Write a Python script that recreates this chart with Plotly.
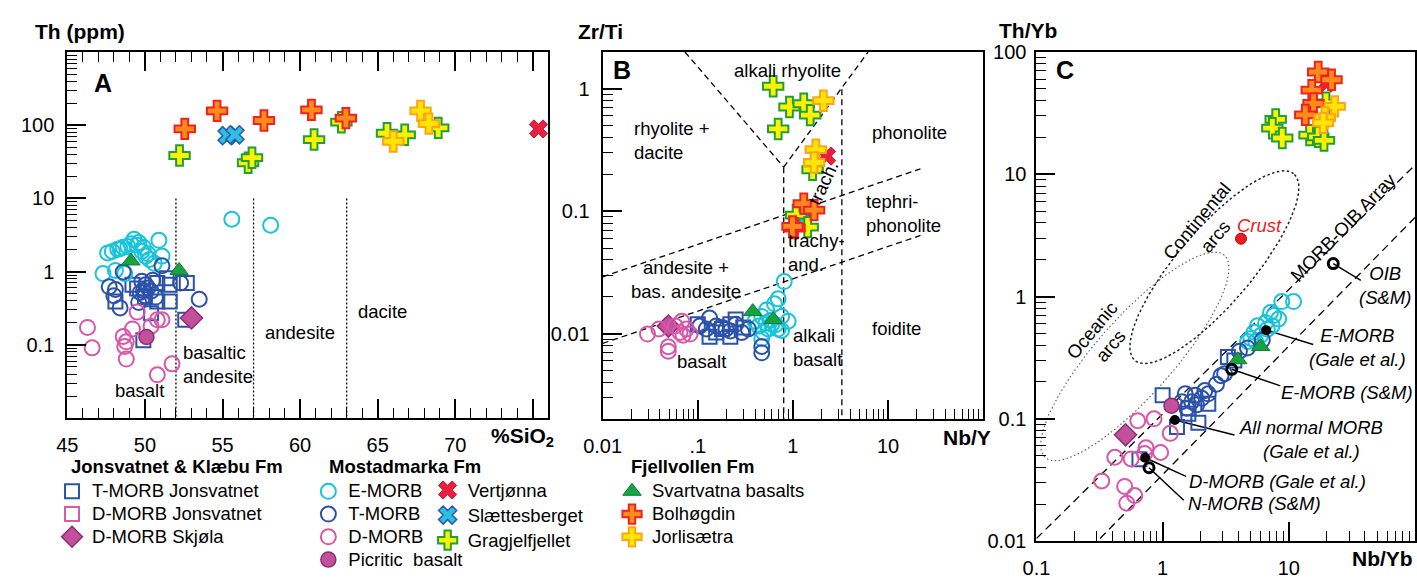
import numpy as np
import plotly.graph_objects as go

FIG_W, FIG_H = 1417, 579

# ============================ DATA ============================
# ---- Panel A : SiO2 (wt%) vs Th (ppm)
EMORB_A_SIO2 = [47.6, 47.9, 48.25, 48.6, 49.3, 49.5, 49.9, 50.05, 50.3, 50.9, 51.1, 47.3, 48.1, 48.7,
                48.9, 49.6, 49.1, 50.2, 49.8, 48.4, 50.6, 55.6, 58.1]
EMORB_A_TH = [1.8, 1.89, 2.03, 2.16, 2.76, 2.3, 2.16, 1.63, 1.47, 2.68, 1.63, 0.94, 1.04, 0.94,
              2.2, 2.5, 2.4, 1.75, 1.9, 2.05, 1.3, 5.2, 4.3]
TMORB_A_SIO2 = [47.7, 48.1, 48.0, 48.4, 50.05, 49.7, 49.6, 50.4, 50.7, 51.1, 52.3, 53.5, 49.8, 50.5,
                48.6, 50.0, 50.2, 49.9]
TMORB_A_TH = [0.62, 0.57, 0.47, 0.32, 0.66, 0.52, 0.38, 0.54, 0.45, 1.2, 0.70, 0.42, 0.74, 0.76,
              0.99, 0.47, 0.6, 0.55]
TMORBJ_A_SIO2 = [49.2, 50.8, 51.6, 52.7, 51.6, 50.8, 50.4, 48.1, 52.6, 49.9, 51.4, 49.5, 50.0]
TMORBJ_A_TH = [0.66, 0.70, 0.66, 0.70, 0.39, 0.39, 0.27, 0.39, 0.22, 0.116, 0.81, 0.59, 0.45]
DMORBJ_A_SIO2 = [None]
DMORBJ_A_TH = [None]
DMORB_A_SIO2 = [46.3, 46.6, 48.6, 49.2, 48.8, 48.7, 48.8, 49.5, 50.4, 50.8, 51.1, 50.8, 51.75]
DMORB_A_TH = [0.173, 0.091, 0.13, 0.165, 0.11, 0.095, 0.064, 0.28, 0.18, 0.22, 0.22, 0.039, 0.055]
PICRITE_A_SIO2 = [50.1]
PICRITE_A_TH = [0.128]
SKJOLA_A_SIO2 = [53.0]
SKJOLA_A_TH = [0.233]
SVART_A_SIO2 = [49.1, 52.2]
SVART_A_TH = [1.4, 1.04]
BOLH_A_SIO2 = [52.57, 54.65, 57.67, 60.73, 62.95]
BOLH_A_TH = [89, 157, 116, 162, 125]
GRAG_A_SIO2 = [52.23, 56.65, 56.9, 60.9, 62.66, 65.6, 66.74, 68.9]
GRAG_A_TH = [38.6, 30.7, 36, 63.7, 110, 77.6, 74, 92]
JORL_A_SIO2 = [67.76, 68.3, 66.0]
JORL_A_TH = [157, 105, 60]
SLAET_A_SIO2 = [55.3, 55.8]
SLAET_A_TH = [72, 74]
VERT_A_SIO2 = [75.36]
VERT_A_TH = [89]

# ---- Panel B : Nb/Y vs Zr/Ti
EMORB_B_NBY = [0.81, 0.70, 0.53, 0.47, 0.436, 0.49, 0.76, 0.89, 0.70, 0.55, 0.40, 0.60, 0.47, 0.76,
               0.64, 0.58, 0.66, 0.52]
EMORB_B_ZRTI = [0.0266, 0.0192, 0.0156, 0.0138, 0.0115, 0.0102, 0.0138, 0.0126, 0.0109, 0.0109,
                0.0126, 0.0119, 0.0091, 0.0106, 0.0175, 0.0128, 0.0118, 0.0122]
TMORB_B_NBY = [0.133, 0.156, 0.25, 0.29, 0.47, 0.47, 0.34, 0.105, 0.198, 0.123, 0.22, 0.18]
TMORB_B_ZRTI = [0.0134, 0.0115, 0.0119, 0.0102, 0.00695, 0.00783, 0.0109, 0.0115, 0.0109, 0.0109,
                0.0105, 0.0112]
TMORBJ_B_NBY = [0.1, 0.133, 0.18, 0.22, 0.25, 0.22, 0.156, 0.3]
TMORBJ_B_ZRTI = [0.0119, 0.0094, 0.0109, 0.0119, 0.013, 0.0094, 0.0102, 0.0112]
DMORB_B_NBY = [0.0296, 0.039, 0.049, 0.049, 0.068, 0.076, 0.083, 0.065, 0.058, 0.07]
DMORB_B_ZRTI = [0.0099, 0.0109, 0.0078, 0.00716, 0.0126, 0.0109, 0.0099, 0.0102, 0.0115, 0.0097]
SKJOLA_B_NBY = [0.049]
SKJOLA_B_ZRTI = [0.0115]
SVART_B_NBY = [0.378, 0.62]
SVART_B_ZRTI = [0.0151, 0.013]
BOLH_B_NBY = [1.30, 1.67, 1.04, 0.99]
BOLH_B_ZRTI = [0.115, 0.102, 0.0727, 0.075]
GRAG_B_NBY = [0.62, 0.92, 1.30, 1.52, 0.70, 1.61, 1.08, 1.43]
GRAG_B_ZRTI = [1.05, 0.71, 0.755, 0.61, 0.47, 0.218, 0.093, 0.074]
JORL_B_NBY = [2.09, 1.74, 1.67]
JORL_B_ZRTI = [0.80, 0.318, 0.25]
SLAET_B_NBY = [1.3, 1.18]
SLAET_B_ZRTI = [0.083, 0.085]
VERT_B_NBY = [2.26]
VERT_B_ZRTI = [0.282]

# ---- Panel C : Nb/Yb vs Th/Yb
EMORB_C_NBYB = [10.9, 8.8, 8.3, 7.16, 6.55, 5.64, 5.31, 5.0, 4.71, 5.98, 6.75, 7.38, 5.47, 7.6]
EMORB_C_THYB = [0.91, 0.91, 0.655, 0.74, 0.61, 0.577, 0.51, 0.454, 0.428, 0.48, 0.54, 0.577, 0.428, 0.70]
TMORB_C_NBYB = [6.17, 4.7, 4.06, 3.1, 2.67, 1.51, 1.81, 2.16, 1.42, 1.70, 2.04, 1.56, 1.86, 2.9, 2.3]
TMORB_C_THYB = [0.44, 0.38, 0.357, 0.234, 0.192, 0.16, 0.156, 0.17, 0.138, 0.138, 0.147, 0.122, 0.13,
                0.225, 0.16]
TMORBJ_C_NBYB = [1.0, 1.6, 2.3, 1.92, 1.6, 1.3, 0.655, 3.29, 3.7]
TMORBJ_C_THYB = [0.156, 0.122, 0.133, 0.093, 0.11, 0.0855, 0.0467, 0.32, 0.30]
DMORB_C_NBYB = [0.635, 0.855, 1.15, 0.738, 0.964, 0.563, 0.418, 0.329, 0.5, 0.6, 0.52, 0.72]
DMORB_C_THYB = [0.0964, 0.1, 0.076, 0.058, 0.053, 0.047, 0.0485, 0.031, 0.028, 0.0236, 0.0204, 0.052]
PICRITE_C_NBYB = [1.175]
PICRITE_C_THYB = [0.128]
SKJOLA_C_NBYB = [0.508]
SKJOLA_C_THYB = [0.074]
SVART_C_NBYB = [3.94, 5.98]
SVART_C_THYB = [0.304, 0.39]
BOLH_C_NBYB = [17.1, 21.8, 15.2, 15.7, 13.5]
BOLH_C_THYB = [68.6, 59.3, 48.7, 37.9, 30.6]
GRAG_C_NBYB = [19.7, 7.87, 7.4, 8.87, 14.6, 17.1, 19.0]
GRAG_C_THYB = [38.4, 28.1, 23.8, 19.8, 20.9, 20.2, 18.9]
JORL_C_NBYB = [23.1, 19.3, 18.7]
JORL_C_THYB = [35.9, 29.1, 26.3]
VERT_C_NBYB = [19.9]
VERT_C_THYB = [55.6]

# Reference compositions (panel C)
REF_FILLED_NAMES = ["E-MORB (Gale et al.)", "All normal MORB (Gale et al.)", "D-MORB (Gale et al.)"]
REF_FILLED_NBYB = [6.62, 1.25, 0.727]
REF_FILLED_THYB = [0.531, 0.0977, 0.048]
REF_FILLED_LEAD_X = [15.6, 3.71, 1.53]
REF_FILLED_LEAD_Y = [0.405, 0.0736, 0.0338]
REF_OPEN_NAMES = ["OIB (S&M)", "E-MORB (S&M)", "N-MORB (S&M)"]
REF_OPEN_NBYB = [22.5, 3.53, 0.78]
REF_OPEN_THYB = [1.86, 0.254, 0.0398]
REF_OPEN_LEAD_X = [37.2, 8.57, 1.47]
REF_OPEN_LEAD_Y = [1.355, 0.186, 0.0216]
CRUST_NBYB = [4.18]
CRUST_THYB = [2.97]

# Field boundaries
A_DIVIDERS_SIO2 = [52, 57, 63]
A_DIVIDER_TH = [10, 0.01]
B_VLEFT_X, B_VLEFT_Y = [0.0734, 0.80], [2.0, 0.229]
B_VRIGHT_X, B_VRIGHT_Y = [0.80, 6.17], [0.229, 2.0]
B_VERT1_X, B_VERT1_Y = [0.80, 0.80], [0.229, 0.002]
B_VERT2_X, B_VERT2_Y = [3.27, 3.27], [0.99, 0.002]
B_UPPER_X, B_UPPER_Y = [0.01, 21.9], [0.0291, 0.222]
B_LOWER_X, B_LOWER_Y = [0.01, 21.9], [0.0083, 0.0633]
C_UPPER_X, C_UPPER_Y = [0.1, 100], [0.0105, 11.9]
C_LOWER_X, C_LOWER_Y = [0.319, 100], [0.0105, 4.43]
# ellipses: (log10 centre x, log10 centre y, semi-major, semi-minor, angle deg) in log space
CONT_ARC = (0.41, 0.24, 0.99, 0.30, 50.6)
OCEAN_ARC = (-0.22, -0.49, 1.09, 0.31, 49.5)

# ============================ STYLE ============================
CYAN = '#19c4da'
BLUE = '#2b52a8'
PINK = '#d957a8'
MAGENTA = '#c2509c'
MAG_EDGE = '#8c2e72'
FONT = 'Liberation Sans, Arial, Helvetica, sans-serif'
TXT = 18.5

STYLES = {
    'tmorbj': dict(symbol='square-open', size=14, color=BLUE, line=dict(width=2)),
    'dmorbj': dict(symbol='square-open', size=14, color=PINK, line=dict(width=2)),
    'skjola': dict(symbol='diamond', size=17, color=MAGENTA, line=dict(width=1.5, color=MAG_EDGE)),
    'emorb': dict(symbol='circle-open', size=15, color=CYAN, line=dict(width=2)),
    'tmorb': dict(symbol='circle-open', size=15, color=BLUE, line=dict(width=2)),
    'dmorb': dict(symbol='circle-open', size=15, color=PINK, line=dict(width=2)),
    'picrite': dict(symbol='circle', size=15, color=MAGENTA, line=dict(width=1.5, color=MAG_EDGE)),
    'vert': dict(symbol='x', size=16, color='#e8203e', line=dict(width=1, color='#c8102e')),
    'slaet': dict(symbol='x', size=16, color='#2ebde3', line=dict(width=1.5, color='#2a5aa8')),
    'grag': dict(symbol='cross', size=17, color='#fff200', line=dict(width=2, color='#1f9e3c')),
    'svart': dict(symbol='triangle-up', size=16, color='#17a344', line=dict(width=1, color='#0f7a30')),
    'bolh': dict(symbol='cross', size=17, color='#ff8c1a', line=dict(width=2, color='#ee2222')),
    'jorl': dict(symbol='cross', size=17, color='#ffe600', line=dict(width=2, color='#ffa41a')),
}


def px(x):
    return x / FIG_W


def py(y):
    return 1 - y / FIG_H


fig = go.Figure()


def lbl(s):
    return "<span style='font-size:%spx'>%s</span>" % (TXT, s)


def add_series(key, name, legend, panels):
    first = True
    for xs, ys, ax in panels:
        fig.add_trace(go.Scatter(
            x=xs, y=ys, xaxis='x' + ax, yaxis='y' + ax, mode='markers',
            marker=STYLES[key], name=lbl(name), legendgroup=key, legend=legend,
            showlegend=first, hoverinfo='skip'))
        first = False


def add_line(xs, ys, ax, dash='6px,4px', color='black', width=1.3):
    fig.add_trace(go.Scatter(x=xs, y=ys, xaxis='x' + ax, yaxis='y' + ax, mode='lines',
                             line=dict(color=color, width=width, dash=dash),
                             showlegend=False, hoverinfo='skip'))


def ellipse(params, n=240):
    cx, cy, a, b, ang = params
    t = np.linspace(0, 2 * np.pi, n)
    th = np.radians(ang)
    lx = cx + a * np.cos(t) * np.cos(th) - b * np.sin(t) * np.sin(th)
    ly = cy + a * np.cos(t) * np.sin(th) + b * np.sin(t) * np.cos(th)
    return 10 ** lx, 10 ** ly


# ---- boundary lines
for s in A_DIVIDERS_SIO2:
    add_line([s, s], A_DIVIDER_TH, '', dash='2px,2px', width=1.3)
for xs, ys in [(B_VLEFT_X, B_VLEFT_Y), (B_VRIGHT_X, B_VRIGHT_Y), (B_VERT1_X, B_VERT1_Y),
               (B_VERT2_X, B_VERT2_Y), (B_UPPER_X, B_UPPER_Y), (B_LOWER_X, B_LOWER_Y)]:
    add_line(xs, ys, '2')
add_line(C_UPPER_X, C_UPPER_Y, '3', dash='8px,5px')
add_line(C_LOWER_X, C_LOWER_Y, '3', dash='8px,5px')
ex, ey = ellipse(OCEAN_ARC)
add_line(ex, ey, '3', dash='1.5px,2.5px', color='#555555', width=1.1)
ex, ey = ellipse(CONT_ARC)
add_line(ex, ey, '3', dash='2.5px,2.5px', color='#222222', width=1.5)
for i in range(3):
    add_line([REF_FILLED_NBYB[i], REF_FILLED_LEAD_X[i]], [REF_FILLED_THYB[i], REF_FILLED_LEAD_Y[i]],
             '3', dash='solid', width=1.5)
    add_line([REF_OPEN_NBYB[i], REF_OPEN_LEAD_X[i]], [REF_OPEN_THYB[i], REF_OPEN_LEAD_Y[i]],
             '3', dash='solid', width=1.5)

# ---- sample series
add_series('tmorbj', 'T-MORB Jonsvatnet', 'legend',
           [(TMORBJ_A_SIO2, TMORBJ_A_TH, ''), (TMORBJ_B_NBY, TMORBJ_B_ZRTI, '2'),
            (TMORBJ_C_NBYB, TMORBJ_C_THYB, '3')])
add_series('dmorbj', 'D-MORB Jonsvatnet', 'legend', [(DMORBJ_A_SIO2, DMORBJ_A_TH, '')])
add_series('skjola', 'D-MORB Skjøla', 'legend',
           [(SKJOLA_A_SIO2, SKJOLA_A_TH, ''), (SKJOLA_B_NBY, SKJOLA_B_ZRTI, '2'),
            (SKJOLA_C_NBYB, SKJOLA_C_THYB, '3')])
add_series('emorb', 'E-MORB', 'legend2',
           [(EMORB_A_SIO2, EMORB_A_TH, ''), (EMORB_B_NBY, EMORB_B_ZRTI, '2'),
            (EMORB_C_NBYB, EMORB_C_THYB, '3')])
add_series('tmorb', 'T-MORB', 'legend2',
           [(TMORB_A_SIO2, TMORB_A_TH, ''), (TMORB_B_NBY, TMORB_B_ZRTI, '2'),
            (TMORB_C_NBYB, TMORB_C_THYB, '3')])
add_series('dmorb', 'D-MORB', 'legend2',
           [(DMORB_A_SIO2, DMORB_A_TH, ''), (DMORB_B_NBY, DMORB_B_ZRTI, '2'),
            (DMORB_C_NBYB, DMORB_C_THYB, '3')])
add_series('picrite', 'Picritic&nbsp; basalt', 'legend2',
           [(PICRITE_A_SIO2, PICRITE_A_TH, ''), (PICRITE_C_NBYB, PICRITE_C_THYB, '3')])
add_series('vert', 'Vertjønna', 'legend3',
           [(VERT_A_SIO2, VERT_A_TH, ''), (VERT_B_NBY, VERT_B_ZRTI, '2'), (VERT_C_NBYB, VERT_C_THYB, '3')])
add_series('slaet', 'Slættesberget', 'legend3',
           [(SLAET_A_SIO2, SLAET_A_TH, ''), (SLAET_B_NBY, SLAET_B_ZRTI, '2')])
add_series('grag', 'Gragjelfjellet', 'legend3',
           [(GRAG_A_SIO2, GRAG_A_TH, ''), (GRAG_B_NBY, GRAG_B_ZRTI, '2'), (GRAG_C_NBYB, GRAG_C_THYB, '3')])
add_series('svart', 'Svartvatna basalts', 'legend4',
           [(SVART_A_SIO2, SVART_A_TH, ''), (SVART_B_NBY, SVART_B_ZRTI, '2'),
            (SVART_C_NBYB, SVART_C_THYB, '3')])
add_series('bolh', 'Bolhøgdin', 'legend4',
           [(BOLH_A_SIO2, BOLH_A_TH, ''), (BOLH_B_NBY, BOLH_B_ZRTI, '2'), (BOLH_C_NBYB, BOLH_C_THYB, '3')])
add_series('jorl', 'Jorlisætra', 'legend4',
           [(JORL_A_SIO2, JORL_A_TH, ''), (JORL_B_NBY, JORL_B_ZRTI, '2'), (JORL_C_NBYB, JORL_C_THYB, '3')])

# ---- reference compositions
fig.add_trace(go.Scatter(x=REF_FILLED_NBYB, y=REF_FILLED_THYB, xaxis='x3', yaxis='y3', mode='markers',
                         marker=dict(symbol='circle', size=10, color='black'), showlegend=False,
                         hoverinfo='skip'))
fig.add_trace(go.Scatter(x=REF_OPEN_NBYB, y=REF_OPEN_THYB, xaxis='x3', yaxis='y3', mode='markers',
                         marker=dict(symbol='circle-open', size=10, color='black', line=dict(width=3)),
                         showlegend=False, hoverinfo='skip'))
fig.add_trace(go.Scatter(x=CRUST_NBYB, y=CRUST_THYB, xaxis='x3', yaxis='y3', mode='markers',
                         marker=dict(symbol='circle', size=11, color='#ee1c1c',
                                     line=dict(width=1, color='#a01010')),
                         showlegend=False, hoverinfo='skip'))

# ============================ AXES ============================
TICKFONT = dict(family=FONT, size=20, color='black')


def axis(**kw):
    base = dict(showline=True, linecolor='black', linewidth=2, mirror=True, ticks='inside',
                ticklen=19, tickwidth=1.5, tickcolor='black', showgrid=False, zeroline=False,
                tickfont=TICKFONT, ticklabelstandoff=8)
    base.update(kw)
    return base


LOG_MINOR = dict(ticks='inside', ticklen=10, tickwidth=1.3, tickcolor='black', dtick='D1', showgrid=False)

fig.update_layout(
    xaxis=axis(domain=[px(49), px(537)], range=[45, 76], anchor='y', mirror='ticks',
               tickmode='array', tickvals=[45, 50, 55, 60, 65, 70, 75],
               ticktext=['45', '50', '55', '60', '65', '70', ''],
               minor=dict(ticks='inside', ticklen=10, tickwidth=1.3, tickcolor='black', dtick=1,
                          tick0=45, showgrid=False)),
    yaxis=axis(domain=[py(427), py(43)], type='log', range=[-2, 3], anchor='x', ticklabelstandoff=7,
               tickmode='array', tickvals=[0.01, 0.1, 1, 10, 100, 1000],
               ticktext=['', '0.1', '1', '10', '100', ''], minor=LOG_MINOR),
    xaxis2=axis(domain=[px(592), px(978)], type='log', range=[-2, 2], anchor='y2',
                tickmode='array', tickvals=[0.01, 0.1, 1, 10, 100],
                ticktext=['0.01', '.1', '1', '10', ''], minor=LOG_MINOR),
    yaxis2=axis(domain=[py(428), py(43)], type='log', range=[np.log10(0.002), np.log10(2)], anchor='x2',
                ticklabelstandoff=7,
                tickmode='array', tickvals=[0.01, 0.1, 1], ticktext=['0.01', '0.1', '1'], minor=LOG_MINOR),
    xaxis3=axis(domain=[px(1032), px(1416)], type='log', range=[-1, 2], anchor='y3',
                tickmode='array', tickvals=[0.1, 1, 10, 100], ticktext=['0.1', '1', '10', ''],
                minor=LOG_MINOR),
    yaxis3=axis(domain=[py(556), py(43)], type='log', range=[-2, 2], anchor='x3', ticklabelstandoff=4,
                tickmode='array', tickvals=[0.01, 0.1, 1, 10, 100],
                ticktext=['0.01', '0.1', '1', '10', '100'], minor=LOG_MINOR),
)

# ============================ TEXT ============================
ann = []


def txt(x, y, s, size=TXT, xanchor='center', angle=0, color='black', align='center'):
    ann.append(dict(x=px(x), y=py(y), xref='paper', yref='paper', text=s, showarrow=False,
                    xanchor=xanchor, yanchor='middle', textangle=angle, align=align,
                    font=dict(family=FONT, size=size, color=color)))


# axis titles
txt(62, 22, '<b>Th (ppm)</b>', size=21)
txt(511, 447, '<b>%SiO<sub>2</sub></b>', size=21)
txt(590, 22, '<b>Zr/Ti</b>', size=21)
txt(962, 447, '<b>Nb/Y</b>', size=21)
txt(1023, 20, '<b>Th/Yb</b>', size=21)
txt(1383, 574, '<b>Nb/Yb</b>', size=21)
# panel letters
txt(85, 75, '<b>A</b>', size=25)
txt(612, 62, '<b>B</b>', size=25)
txt(1061, 62, '<b>C</b>', size=25)
# panel A fields
txt(122, 398, 'basalt')
txt(164, 371, 'basaltic<br>andesite', xanchor='left', align='left')
txt(285, 337, 'andesite')
txt(369, 315, 'dacite')
# panel B fields
txt(779, 62, 'alkali rhyolite')
txt(622, 136, 'rhyolite +<br>dacite', xanchor='left', align='left')
txt(903, 127, 'phonolite')
txt(857, 212, 'tephri-<br>phonolite', xanchor='left', align='left')
txt(816, 180, 'trach.', angle=-65)
txt(778, 253, 'trachy-<br>and.', xanchor='left', align='left')
txt(677, 282, 'andesite +<br>bas. andesite')
txt(692, 368, 'basalt')
txt(783, 353, 'alkali<br>basalt', xanchor='left', align='left')
txt(890, 333, 'foidite')
# panel C labels
txt(1204, 228, 'Continental<br>arcs', angle=-50)
txt(1097, 343, 'Oceanic<br>arcs', angle=-50)
txt(1343, 227, 'MORB-OIB Array', angle=-46)
txt(1258, 225, '<i>Crust</i>', color='#ee1c1c')
txt(1386, 288, '<i>OIB<br>(S&amp;M)</i>')
txt(1358, 353, '<i>E-MORB<br>(Gale et al.)</i>')
txt(1347, 400, '<i>E-MORB (S&amp;M)</i>')
txt(1310, 449, '<i>All normal MORB<br>(Gale et al.)</i>')
txt(1277, 493, '<i>D-MORB (Gale et al.)</i>')
txt(1253, 517, '<i>N-MORB (S&amp;M)</i>')
# legend headers
txt(51, 478, '<b>Jonsvatnet &amp; Klæbu Fm</b>', xanchor='left')
txt(312, 478, '<b>Mostadmarka Fm</b>', xanchor='left')
txt(619, 478, '<b>Fjellvollen Fm</b>', xanchor='left')

LEG = dict(xanchor='left', yanchor='top', font=dict(family=FONT, size=15.2, color='black'),
           itemwidth=30, tracegroupgap=0, bgcolor='rgba(0,0,0,0)', borderwidth=0,
           traceorder='normal', orientation='v')

fig.update_layout(
    width=FIG_W, height=FIG_H, margin=dict(l=0, r=0, t=0, b=0),
    plot_bgcolor='white', paper_bgcolor='white',
    font=dict(family=FONT, size=TXT, color='black'),
    annotations=ann,
    legend=dict(LEG, x=px(33.5), y=py(486.6)),
    legend2=dict(LEG, x=px(293.5), y=py(486.6)),
    legend3=dict(LEG, x=px(414.5), y=py(484), font=dict(family=FONT, size=17, color='black')),
    legend4=dict(LEG, x=px(601.5), y=py(486.6)),
)

fig.write_html('out.html')
